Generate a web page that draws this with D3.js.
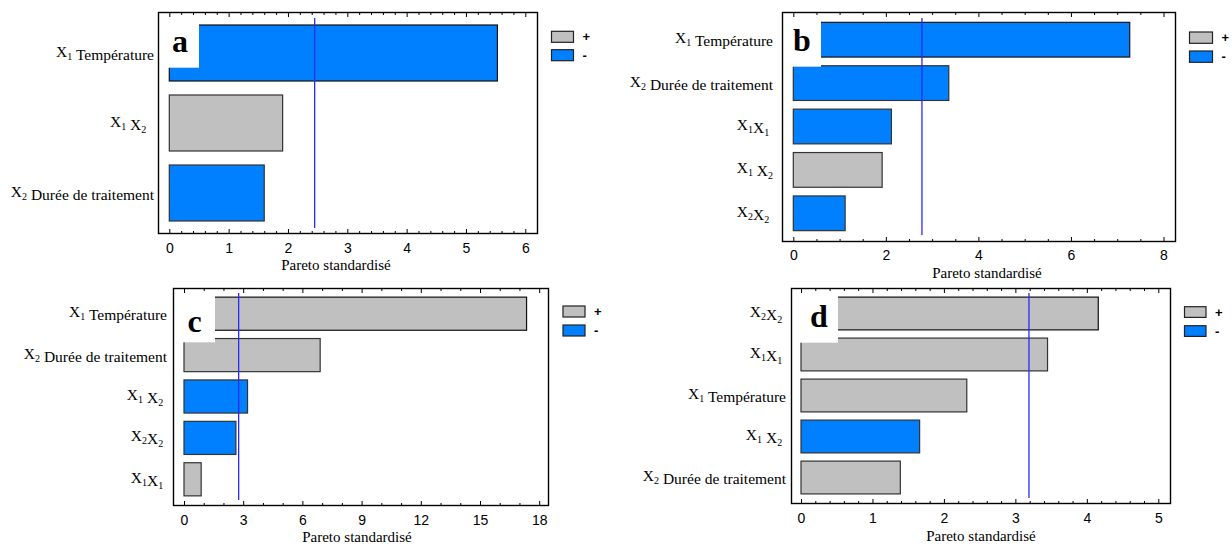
<!DOCTYPE html>
<html>
<head>
<meta charset="utf-8">
<script src="https://cdn.jsdelivr.net/npm/d3@7"></script>
<style>
  html, body { margin: 0; padding: 0; background: #fff; }
  svg { display: block; }
</style>
</head>
<body>
<script>
// ---------- DATA ----------
const labelsA = ["X_1 Température", "X_1 X_2\u00a0\u00a0", "X_2 Durée de traitement"];
const valuesA = [5.53, 1.91, 1.60];
const signsA  = ["-", "+", "-"];
const thresholdA = 2.45;
const ticksA = [0, 1, 2, 3, 4, 5, 6];

const labelsB = ["X_1 Température", "X_2 Durée de traitement", "X_1X_1\u00a0", "X_1 X_2", "X_2X_2\u00a0"];
const valuesB = [7.27, 3.36, 2.12, 1.92, 1.12];
const signsB  = ["-", "-", "-", "+", "-"];
const thresholdB = 2.78;
const ticksB = [0, 2, 4, 6, 8];

const labelsC = ["X_1 Température", "X_2 Durée de traitement", "X_1 X_2\u00a0", "X_2X_2\u00a0", "X_1X_1\u00a0"];
const valuesC = [17.36, 6.9, 3.22, 2.63, 0.87];
const signsC  = ["+", "+", "-", "-", "+"];
const thresholdC = 2.77;
const ticksC = [0, 3, 6, 9, 12, 15, 18];

const labelsD = ["X_2X_2\u00a0", "X_1X_1\u00a0", "X_1 Température", "X_1 X_2\u00a0", "X_2 Durée de traitement"];
const valuesD = [4.16, 3.45, 2.32, 1.66, 1.39];
const signsD  = ["+", "+", "+", "-", "+"];
const thresholdD = 3.19;
const ticksD = [0, 1, 2, 3, 4, 5];

const panelLetters = ["a", "b", "c", "d"];
const legendSigns = ["+", "-"];
const axisTitle = "Pareto standardisé";

// ---------- STYLE / LAYOUT ----------
const colorOf = { "+": "#c0c0c0", "-": "#0080ff" };
const serif = "'Liberation Serif', 'Times New Roman', Tinos, serif";
const sans = "'Liberation Sans', Arial, sans-serif";

const panels = [
  { letter: panelLetters[0], labels: labelsA, values: valuesA, signs: signsA, thr: thresholdA, ticks: ticksA, minorStep: 0.2,
    fx0: 158.5, fx1: 537.5, fy0: 12.5, fy1: 233.5, x0: 169.3, x1: 525.3, b0: 18, b1: 228,
    labelRight: 154, tickPad: 10, titleY: 269.5, titleDx: -12,
    boxR: 199, boxB: 67.7, letterX: 172, letterY: 51.5,
    legX: 551.5, legY: [31.3, 49.7], legW: 22, legH: 11 },
  { letter: panelLetters[1], labels: labelsB, values: valuesB, signs: signsB, thr: thresholdB, ticks: ticksB, minorStep: 0.5,
    fx0: 782.5, fx1: 1175.5, fy0: 12.5, fy1: 241.5, x0: 793.3, x1: 1163.5, b0: 18, b1: 235,
    labelRight: 773, tickPad: 8.5, titleY: 278, titleDx: 8,
    boxR: 821, boxB: 66.7, letterX: 793, letterY: 51,
    legX: 1189.5, legY: [32, 51], legW: 23, legH: 11.3 },
  { letter: panelLetters[2], labels: labelsC, values: valuesC, signs: signsC, thr: thresholdC, ticks: ticksC, minorStep: 1,
    fx0: 173.5, fx1: 548.5, fy0: 288.5, fy1: 505.5, x0: 184, x1: 539.2, b0: 293, b1: 500,
    labelRight: 167, tickPad: 10, titleY: 541.5, titleDx: -4,
    boxR: 215, boxB: 342.3, letterX: 187.5, letterY: 332.3,
    legX: 563, legY: [306, 325], legW: 22, legH: 11 },
  { letter: panelLetters[3], labels: labelsD, values: valuesD, signs: signsD, thr: thresholdD, ticks: ticksD, minorStep: 0.2,
    fx0: 791.5, fx1: 1170.5, fy0: 288.5, fy1: 503.5, x0: 801, x1: 1158.3, b0: 293, b1: 498,
    labelRight: 786, tickPad: 10, titleY: 541, titleDx: 0,
    boxR: 838, boxB: 342.7, letterX: 810, letterY: 327,
    legX: 1184.5, legY: [306.7, 325.7], legW: 21.5, legH: 10.7 }
];

const svg = d3.select("body").append("svg")
  .attr("width", 1232).attr("height", 544)
  .style("background", "#fff");

function addLabel(textSel, str) {
  // parse "X_1" into X with subscript 1
  const parts = str.split(/(X_\d)/).filter(s => s.length);
  parts.forEach(p => {
    const m = p.match(/^X_(\d)$/);
    if (m) {
      textSel.append("tspan").text("X");
      textSel.append("tspan").attr("font-size", "10px").attr("dy", 3).text(m[1]);
      textSel.append("tspan").attr("dy", -3).text("");
    } else {
      textSel.append("tspan").text(p);
    }
  });
}

panels.forEach(P => {
  const g = svg.append("g");
  const x = d3.scaleLinear().domain([0, P.ticks[P.ticks.length - 1]]).range([P.x0, P.x1]);
  const y = d3.scaleBand().domain(d3.range(P.labels.length)).range([P.b0, P.b1])
    .paddingInner(0.2).paddingOuter(0.1);

  // bars
  g.selectAll("rect.bar").data(P.values).join("rect")
    .attr("class", "bar")
    .attr("x", x(0))
    .attr("y", (d, i) => y(i))
    .attr("width", d => x(d) - x(0))
    .attr("height", y.bandwidth())
    .attr("fill", (d, i) => colorOf[P.signs[i]])
    .attr("stroke", (d, i) => i === 0 ? "#111" : "#333")
    .attr("stroke-width", 1.2);

  // threshold line
  g.append("line")
    .attr("x1", x(P.thr)).attr("x2", x(P.thr))
    .attr("y1", P.b0).attr("y2", P.b1)
    .attr("stroke", "#2a2aff").attr("stroke-width", 1.3);

  // white label box + letter
  g.append("rect")
    .attr("x", P.fx0 + 0.8).attr("y", P.fy0 + 4.5)
    .attr("width", P.boxR - P.fx0 - 0.8).attr("height", P.boxB - P.fy0 - 4.5)
    .attr("fill", "#fff");
  g.append("text")
    .attr("x", P.letterX).attr("y", P.letterY)
    .attr("font-family", serif).attr("font-weight", "bold").attr("font-size", "32px")
    .attr("fill", "#000")
    .text(P.letter);

  // bottom axis: major ticks inside with labels
  const axB = d3.axisBottom(x).tickValues(P.ticks).tickSize(-4.5).tickPadding(P.tickPad)
    .tickFormat(d3.format("d"));
  const gB = g.append("g").attr("transform", `translate(0,${P.fy1})`).call(axB);
  gB.select(".domain").remove();
  gB.selectAll("line").attr("stroke", "#000").attr("stroke-width", 1);
  gB.selectAll("text").attr("font-family", sans).attr("font-size", "14px").attr("fill", "#000");

  const minor = d3.range(0, P.ticks[P.ticks.length - 1] + 1e-9, P.minorStep)
    .filter(v => !P.ticks.some(t => Math.abs(t - v) < 1e-6));
  const gBm = g.append("g").attr("transform", `translate(0,${P.fy1})`)
    .call(d3.axisBottom(x).tickValues(minor).tickSize(-2.5).tickFormat(""));
  gBm.select(".domain").remove();
  gBm.selectAll("line").attr("stroke", "#000").attr("stroke-width", 1);

  // top axis ticks (inside)
  const gT = g.append("g").attr("transform", `translate(0,${P.fy0})`)
    .call(d3.axisTop(x).tickValues(P.ticks).tickSize(-4.5).tickFormat(""));
  gT.select(".domain").remove();
  gT.selectAll("line").attr("stroke", "#000").attr("stroke-width", 1);
  const gTm = g.append("g").attr("transform", `translate(0,${P.fy0})`)
    .call(d3.axisTop(x).tickValues(minor).tickSize(-2.5).tickFormat(""));
  gTm.select(".domain").remove();
  gTm.selectAll("line").attr("stroke", "#000").attr("stroke-width", 1);

  // frame
  g.append("rect")
    .attr("x", P.fx0).attr("y", P.fy0)
    .attr("width", P.fx1 - P.fx0).attr("height", P.fy1 - P.fy0)
    .attr("fill", "none").attr("stroke", "#000").attr("stroke-width", 1.4);

  // category labels
  P.labels.forEach((lab, i) => {
    const t = g.append("text")
      .attr("x", P.labelRight)
      .attr("y", y(i) + y.bandwidth() / 2 + 3.5)
      .attr("text-anchor", "end")
      .attr("font-family", serif).attr("font-size", "15.5px").attr("fill", "#000")
      .attr("xml:space", "preserve");
    addLabel(t, lab);
  });

  // axis title
  g.append("text")
    .attr("x", (P.fx0 + P.fx1) / 2 + P.titleDx).attr("y", P.titleY)
    .attr("text-anchor", "middle")
    .attr("font-family", serif).attr("font-size", "15px").attr("fill", "#000")
    .text(axisTitle);

  // legend
  legendSigns.forEach((s, k) => {
    g.append("rect")
      .attr("x", P.legX).attr("y", P.legY[k])
      .attr("width", P.legW).attr("height", P.legH)
      .attr("fill", colorOf[s]).attr("stroke", "#222").attr("stroke-width", 1.2);
    g.append("text")
      .attr("x", P.legX + P.legW + 9).attr("y", P.legY[k] + P.legH / 2 + 4.5)
      .attr("font-family", sans).attr("font-weight", "bold").attr("font-size", "13px")
      .attr("fill", "#000")
      .text(s);
  });
});
</script>
</body>
</html>
